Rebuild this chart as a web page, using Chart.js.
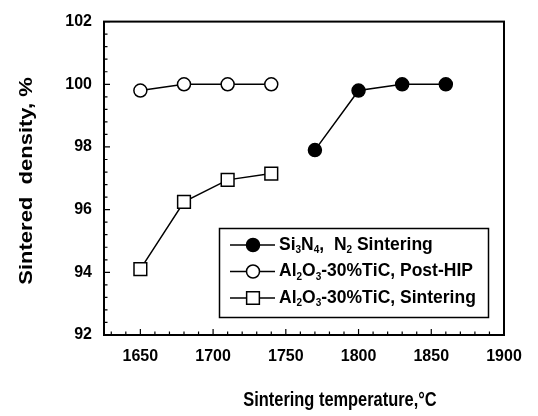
<!DOCTYPE html>
<html>
<head>
<meta charset="utf-8">
<script src="https://cdn.jsdelivr.net/npm/chart.js@4"></script>
<style>
html,body{margin:0;padding:0;background:#fff;}
#wrap{width:538px;height:416px;position:relative;}
</style>
</head>
<body>
<div id="wrap"><canvas id="c"></canvas></div>
<script>
// ---- data ----
const si3n4Temps = [1770, 1800, 1830, 1860];
const si3n4Density = [97.9, 99.8, 100.0, 100.0];
const hipTemps = [1650, 1680, 1710, 1740];
const hipDensity = [99.8, 100.0, 100.0, 100.0];
const sintTemps = [1650, 1680, 1710, 1740];
const sintDensity = [94.1, 96.25, 96.95, 97.15];
const seriesLabels = ['Si₃N₄,  N₂ Sintering', 'Al₂O₃-30%TiC, Post-HIP', 'Al₂O₃-30%TiC, Sintering'];
const xTitle = 'Sintering temperature,°C';
const yTitle = 'Sintered  density, %';
const xMin = 1625, xMax = 1900, xStep = 50, xMinor = 10, xFirstLabel = 1650;
const yMin = 92, yMax = 102, yStep = 2, yMinor = 0.4;

const FONT = '"Liberation Sans", Arial, Helvetica, sans-serif';

function pts(xs, ys) { return xs.map((x, i) => ({x: x, y: ys[i]})); }

const datasets = [
  {label: seriesLabels[0], data: pts(si3n4Temps, si3n4Density), pointStyle: 'circle', pointRadius: 6.5,
   backgroundColor: '#000', borderColor: '#000', pointBorderWidth: 1.5},
  {label: seriesLabels[1], data: pts(hipTemps, hipDensity), pointStyle: 'circle', pointRadius: 6.5,
   backgroundColor: '#fff', borderColor: '#000', pointBorderWidth: 1.5},
  {label: seriesLabels[2], data: pts(sintTemps, sintDensity), pointStyle: 'rect', pointRadius: 9,
   backgroundColor: '#fff', borderColor: '#000', pointBorderWidth: 1.5}
].map(d => Object.assign({showLine: true, borderWidth: 1.5, pointBackgroundColor: d.backgroundColor,
   pointBorderColor: '#000', pointHoverRadius: d.pointRadius}, d));

// draw text where subscript digits are rendered small & lowered
const SUBS = '₀₁₂₃₄₅₆₇₈₉';
function drawRich(ctx, text, x, y, size) {
  let cx = x;
  for (const ch of text) {
    const si = SUBS.indexOf(ch);
    if (si >= 0) {
      ctx.font = 'bold ' + Math.round(size * 0.58) + 'px ' + FONT;
      ctx.fillText(String(si), cx, y + size * 0.32);
      cx += ctx.measureText(String(si)).width;
    } else {
      ctx.font = 'bold ' + size + 'px ' + FONT;
      ctx.fillText(ch, cx, y);
      cx += ctx.measureText(ch).width;
    }
  }
}

const framePlugin = {
  id: 'frame',
  afterDatasetsDraw(chart) {
    const ctx = chart.ctx, a = chart.chartArea;
    const xs = chart.scales.x, ys = chart.scales.y;
    ctx.save();
    ctx.strokeStyle = '#000';
    // inward ticks
    ctx.lineWidth = 1.2;
    ctx.beginPath();
    for (let v = Math.ceil(xMin / xMinor) * xMinor; v <= xMax + 1e-9; v += xMinor) {
      const px = xs.getPixelForValue(v);
      const major = Math.abs(v / xStep - Math.round(v / xStep)) < 1e-6;
      ctx.moveTo(px, a.bottom);
      ctx.lineTo(px, a.bottom - (major ? 6 : 3.5));
    }
    for (let k = 0; yMin + k * yMinor <= yMax + 1e-9; k++) {
      const v = yMin + k * yMinor;
      const py = ys.getPixelForValue(v);
      const major = Math.abs(v / yStep - Math.round(v / yStep)) < 1e-6;
      ctx.moveTo(a.left, py);
      ctx.lineTo(a.left + (major ? 6 : 3.5), py);
    }
    ctx.stroke();
    // box
    ctx.lineWidth = 2;
    ctx.strokeRect(a.left, a.top, a.right - a.left, a.bottom - a.top);

    // legend
    const lx = 219, ly = 228, lw = 269, lh = 89;
    ctx.fillStyle = '#fff';
    ctx.fillRect(lx, ly, lw, lh);
    ctx.lineWidth = 1.5;
    ctx.strokeRect(lx + 0.5, ly + 0.5, lw, lh);
    const rows = [245, 271.5, 298];
    chart.data.datasets.forEach((ds, i) => {
      const y = rows[i];
      ctx.lineWidth = 1.5;
      ctx.strokeStyle = '#000';
      ctx.beginPath();
      ctx.moveTo(230, y); ctx.lineTo(275, y); ctx.stroke();
      ctx.fillStyle = ds.pointBackgroundColor;
      ctx.strokeStyle = '#000';
      ctx.lineWidth = 1.5;
      Chart.helpers.drawPoint(ctx, {pointStyle: ds.pointStyle, radius: ds.pointRadius, rotation: 0, borderWidth: 1.5}, 253, y);
      ctx.fillStyle = '#000';
      ctx.textBaseline = 'middle';
      ctx.textAlign = 'left';
      drawRich(ctx, ds.label, 279, y, 17.5);
    });

    // axis titles
    ctx.fillStyle = '#000';
    ctx.textAlign = 'center';
    ctx.textBaseline = 'middle';
    ctx.font = 'bold 20px ' + FONT;
    ctx.save();
    ctx.translate(340, 400);
    ctx.scale(0.82, 1);
    ctx.fillText(xTitle, 0, 0);
    ctx.restore();
    ctx.save();
    ctx.font = 'bold 22px ' + FONT;
    ctx.translate(27, 181);
    ctx.scale(0.85, 1);
    ctx.rotate(-Math.PI / 2);
    ctx.fillText(yTitle, 0, 0);
    ctx.restore();
    ctx.restore();
  }
};

new Chart(document.getElementById('c'), {
  type: 'scatter',
  data: {datasets: datasets},
  options: {
    responsive: true,
    maintainAspectRatio: false,
    animation: false,
    events: [],
    layout: {padding: {left: 0, right: 34, top: 16, bottom: 0}},
    plugins: {legend: {display: false}, tooltip: {enabled: false}},
    scales: {
      x: {
        type: 'linear', min: xMin, max: xMax,
        afterBuildTicks(s) { const t = []; for (let v = xFirstLabel; v <= xMax; v += xStep) t.push({value: v}); s.ticks = t; },
        afterFit(s) { s.height = 81; },
        grid: {display: false, drawTicks: false},
        border: {display: false},
        ticks: {color: '#000', padding: 12, maxRotation: 0, callback: v => String(v),
                font: {family: FONT, size: 16, weight: 'bold'}}
      },
      y: {
        type: 'linear', min: yMin, max: yMax,
        ticks: {stepSize: yStep, color: '#000', padding: 12, callback: v => String(v),
                font: {family: FONT, size: 16, weight: 'bold'}},
        afterFit(s) { s.width = 104; },
        grid: {display: false, drawTicks: false},
        border: {display: false}
      }
    }
  },
  plugins: [framePlugin]
});
</script>
</body>
</html>
